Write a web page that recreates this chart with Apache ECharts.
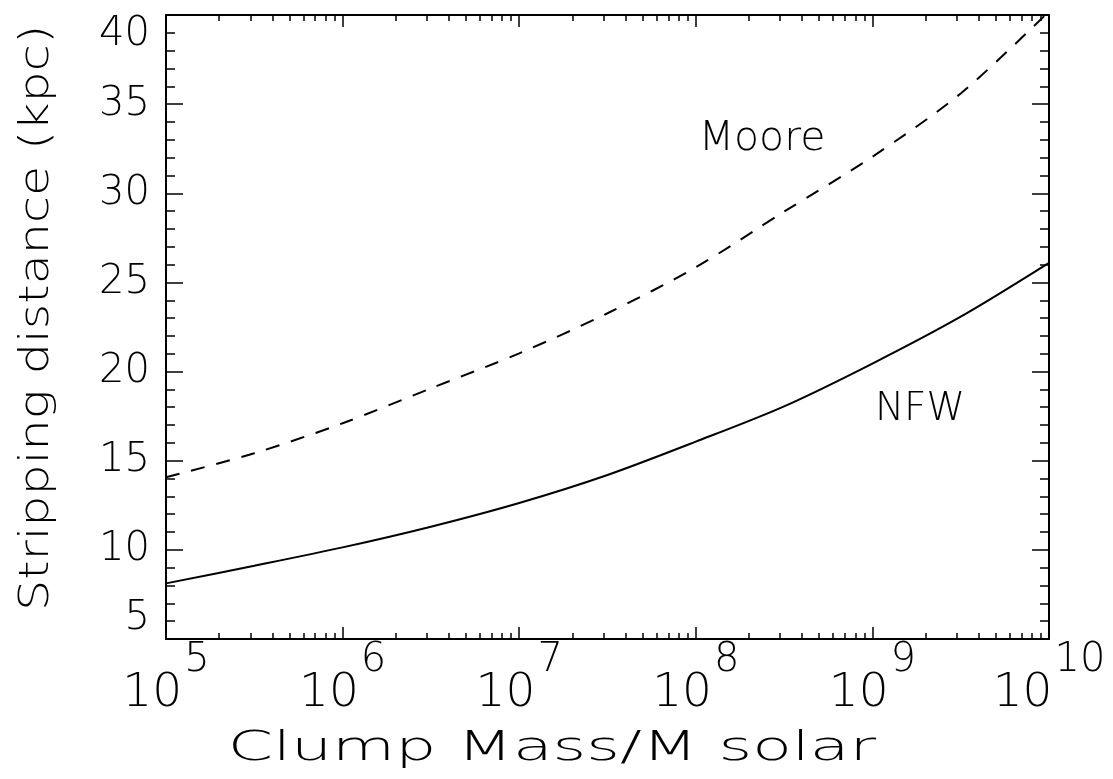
<!DOCTYPE html>
<html>
<head>
<meta charset="utf-8">
<script src="https://cdn.jsdelivr.net/npm/echarts@6/dist/echarts.min.js"></script>
<style>
  html, body { margin: 0; background: #fff; }
  #chart { width: 1113px; height: 779px; }
</style>
</head>
<body>
<div id="chart"></div>
<script>
// clump mass as log10(M / M_solar)
const massExp = [5, 5.5, 6, 6.5, 7, 7.5, 8, 8.5, 9, 9.5, 10]
// stripping distance in kpc
const nfwDist = [8.12, 9.11, 10.14, 11.3, 12.63, 14.2, 16.07, 18.05, 20.45, 23.08, 26.1]
const mooreDist = [14.07, 15.42, 17.1, 19.06, 21.02, 23.27, 25.85, 28.97, 32.05, 35.6, 40.2]

const xMajorTicks = [5, 6, 7, 8, 9, 10]
const xMinorTicks = []
for (let n = 5; n < 10; n++) {
  for (let k = 2; k <= 9; k++) xMinorTicks.push(n + Math.log10(k))
}

const FONT = "'DejaVu Sans', sans-serif"
const WEIGHT = 200
const ink = '#000'

const chart = echarts.init(document.getElementById('chart'))

const xBase = (pos, ticks, len, withLabels) => ({
  type: 'value',
  position: pos,
  min: 5,
  max: 10,
  interval: 1,
  axisLine: { show: withLabels || pos === 'top', onZero: false, lineStyle: { color: ink, width: 2 } },
  axisTick: { show: true, inside: true, length: len, customValues: ticks, lineStyle: { color: ink, width: 1.5 } },
  axisLabel: withLabels ? {
    show: true,
    margin: 2,
    customValues: xMajorTicks,
    formatter: v => '{b|10}{s|' + v + '}',
    rich: {
      b: { fontSize: 47, fontFamily: FONT, fontWeight: WEIGHT, color: ink, lineHeight: 76, verticalAlign: 'bottom', padding: [0, 2, 0, 0] },
      s: { fontSize: 40, fontFamily: FONT, fontWeight: WEIGHT, color: ink, lineHeight: 76, verticalAlign: 'top' }
    }
  } : { show: false },
  splitLine: { show: false }
})

const yBase = (pos, withLabels) => ({
  type: 'value',
  position: pos,
  min: 5,
  max: 40,
  interval: 5,
  axisLine: { show: true, onZero: false, lineStyle: { color: ink, width: 2 } },
  axisTick: { show: true, inside: true, length: 17, lineStyle: { color: ink, width: 1.5 } },
  minorTick: { show: true, splitNumber: 5, length: 9, lineStyle: { color: ink, width: 1.5 } },
  axisLabel: withLabels ? {
    show: true,
    margin: 16,
    fontSize: 40,
    fontFamily: FONT,
    fontWeight: WEIGHT,
    color: ink,
    verticalAlignMinLabel: 'bottom',
    verticalAlignMaxLabel: 'top'
  } : { show: false },
  splitLine: { show: false },
  minorSplitLine: { show: false }
})

const titleText = (text, x, y, size, opts) => Object.assign({
  type: 'text',
  x: x,
  y: y,
  silent: true,
  style: { text: text, fontSize: size, fontFamily: FONT, fontWeight: WEIGHT, fill: ink, align: 'center', verticalAlign: 'middle' }
}, opts || {})

chart.setOption({
  animation: false,
  backgroundColor: '#fff',
  grid: { left: 166, right: 64, top: 15, bottom: 140 },
  xAxis: [
    xBase('bottom', xMajorTicks, 12, true),
    xBase('bottom', xMinorTicks, 6, false),
    xBase('top', xMajorTicks, 12, false),
    xBase('top', xMinorTicks, 6, false)
  ],
  yAxis: [yBase('left', true), yBase('right', false)],
  graphic: [
    titleText('Stripping distance (kpc)', 38, 318, 40, { rotation: Math.PI / 2, scaleX: 1.23 }),
    titleText('Clump Mass/M solar', 552, 750, 40, { scaleX: 1.62 }),
    titleText('Moore', 762, 139, 41),
    titleText('NFW', 920, 410, 39)
  ],
  series: [
    {
      name: 'NFW',
      type: 'line',
      xAxisIndex: 0,
      yAxisIndex: 0,
      smooth: 0.3,
      symbol: 'none',
      lineStyle: { color: ink, width: 2 },
      data: massExp.map((m, i) => [m, nfwDist[i]])
    },
    {
      name: 'Moore',
      type: 'line',
      xAxisIndex: 0,
      yAxisIndex: 0,
      smooth: 0.3,
      symbol: 'none',
      lineStyle: { color: ink, width: 2, type: [14, 12] },
      data: massExp.map((m, i) => [m, mooreDist[i]])
    }
  ]
})
</script>
</body>
</html>
